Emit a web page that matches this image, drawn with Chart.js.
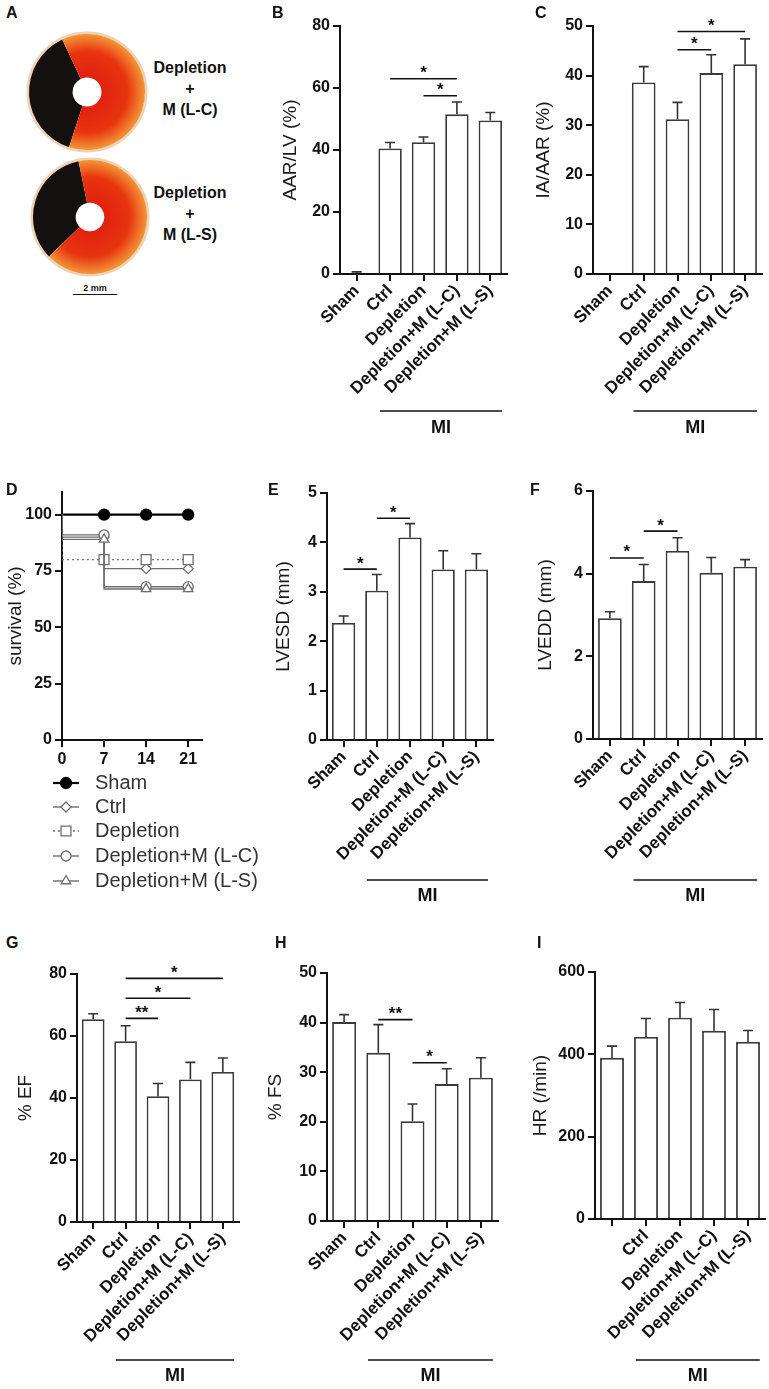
<!DOCTYPE html>
<html><head><meta charset="utf-8">
<script src="https://cdn.jsdelivr.net/npm/chart.js@4.4.1/dist/chart.umd.min.js"></script>
<style>
body{margin:0;background:#fff;}
#page{position:relative;width:769px;height:1389px;overflow:hidden;font-family:'Liberation Sans',Arial,sans-serif;background:#fff;}
.plab{position:absolute;font-weight:bold;font-size:16px;color:#111;z-index:5;}
.box{position:absolute;}
.htxt{position:absolute;width:120px;text-align:center;font-weight:bold;font-size:16px;line-height:21px;color:#111;}
.scale{position:absolute;left:73px;top:283px;width:44px;border-bottom:1.5px solid #111;text-align:center;font-weight:bold;font-size:9px;line-height:11px;color:#111;}
</style></head>
<body><div id="page">
<div class="plab" style="left:6px;top:4px">A</div>
<div class="plab" style="left:272px;top:4px">B</div>
<div class="plab" style="left:535px;top:4px">C</div>
<div class="plab" style="left:6px;top:481px">D</div>
<div class="plab" style="left:268px;top:481px">E</div>
<div class="plab" style="left:530px;top:481px">F</div>
<div class="plab" style="left:6px;top:934px">G</div>
<div class="plab" style="left:275px;top:934px">H</div>
<div class="plab" style="left:537px;top:934px">I</div>
<div class="htxt" style="left:130px;top:57px">Depletion<br>+<br>M (L-C)</div>
<div class="htxt" style="left:130px;top:182px">Depletion<br>+<br>M (L-S)</div>
<div class="scale">2 mm</div>
</div>
<script>
const FONT = "'Liberation Sans', Arial, sans-serif";
Chart.defaults.font.family = FONT;
Chart.defaults.color = '#111';
Chart.defaults.animation = false;

// ---------- DATA ----------
const groups = ['Sham', 'Ctrl', 'Depletion', 'Depletion+M (L-C)', 'Depletion+M (L-S)'];
const hrGroups = ['', 'Ctrl', 'Depletion', 'Depletion+M (L-C)', 'Depletion+M (L-S)'];

const heartLC = [38, 62];
const heartLS = [34, 66];

const aarLv = [0.3, 40.5, 42.5, 51.5, 49.5];
const aarLvErr = [0.4, 1.9, 1.7, 4.0, 2.6];
const sigB = [[1, 3, 63, '*'], [2, 3, 57.5, '*']];

const iaAar = [null, 38.6, 31.2, 40.5, 42.3];
const iaAarErr = [null, 3.2, 3.4, 3.7, 5.1];
const sigC = [[2, 4, 48.9, '*'], [2, 3, 45.2, '*']];

const survivalDays = [0, 7, 14, 21];
const survSham = [100, 100, 100, 100];
const survCtrl = [100, 90, 76, 76];
const survDepl = [100, 80, 80, 80];
const survLC = [100, 91, 68, 68];
const survLS = [100, 89, 67, 67];

const lvesd = [2.37, 3.02, 4.10, 3.45, 3.45];
const lvesdErr = [0.14, 0.33, 0.28, 0.38, 0.32];
const sigE = [[0, 1, 3.46, '*'], [1, 2, 4.49, '*']];

const lvedd = [2.92, 3.82, 4.55, 4.02, 4.17];
const lveddErr = [0.16, 0.40, 0.32, 0.37, 0.17];
const sigF = [[0, 1, 4.38, '*'], [1, 2, 5.03, '*']];

const ef = [65.4, 58.3, 40.6, 46.0, 48.4];
const efErr = [1.8, 5.0, 4.1, 5.5, 4.5];
const sigG = [[1, 2, 65.7, '**'], [1, 3, 72.2, '*'], [1, 4, 78.6, '*']];

const fs = [40.1, 33.9, 20.1, 27.6, 28.9];
const fsErr = [1.5, 5.7, 3.5, 3.1, 4.0];
const sigH = [[1, 2, 40.6, '**'], [2, 3, 31.9, '*']];

const hr = [391, 442, 489, 457, 430];
const hrErr = [29, 45, 37, 52, 28];
const sigI = [];

// ---------- HELPERS ----------
function makeBox(left, top, w, h) {
  const d = document.createElement('div');
  d.className = 'box';
  d.style.left = left + 'px'; d.style.top = top + 'px';
  d.style.width = w + 'px'; d.style.height = h + 'px';
  const c = document.createElement('canvas');
  d.appendChild(c);
  document.getElementById('page').appendChild(d);
  return c;
}

const TITLE_SIZE = 19;
const TITLE_OFF = TITLE_SIZE * 1.2 / 2 + 4;
const YTICK_FONT = {size: 16, weight: 'bold'};
const XTICK_FONT = {size: 17, weight: 'bold'};

function gridOpts(extra) {
  return Object.assign({display: true, drawOnChartArea: false, drawTicks: true, tickLength: 7, color: '#111', lineWidth: 2}, extra || {});
}

function barPanel(o) {
  const boxL = Math.round(o.titleX - TITLE_OFF);
  const padT = 22, padR = 8;
  const boxT = o.plot.t - padT;
  const boxR = o.plot.r + padR;
  const boxB = o.miTextY + 16;
  const canvas = makeBox(boxL, boxT, boxR - boxL, boxB - boxT);
  const yAxisW = o.plot.l - boxL;
  const xAxisH = boxB - o.plot.b;
  const annot = {
    id: 'annot',
    afterDatasetsDraw(chart) {
      const {ctx, scales: {x, y}} = chart;
      ctx.save();
      ctx.strokeStyle = '#333'; ctx.lineWidth = 1.6;
      o.values.forEach((v, i) => {
        const e = o.errors[i];
        if (v == null || e == null) return;
        const px = x.getPixelForValue(i);
        const y0 = y.getPixelForValue(v), y1 = y.getPixelForValue(v + e);
        ctx.beginPath();
        ctx.moveTo(px, y0); ctx.lineTo(px, y1);
        ctx.moveTo(px - 5, y1); ctx.lineTo(px + 5, y1);
        ctx.stroke();
      });
      ctx.strokeStyle = '#111'; ctx.fillStyle = '#111';
      ctx.textAlign = 'center'; ctx.textBaseline = 'alphabetic';
      ctx.font = 'bold 17px ' + FONT;
      o.sig.forEach(([a, b, v, mark]) => {
        const xa = x.getPixelForValue(a), xb = x.getPixelForValue(b), py = y.getPixelForValue(v);
        ctx.lineWidth = 1.6;
        ctx.beginPath(); ctx.moveTo(xa, py); ctx.lineTo(xb, py); ctx.stroke();
        ctx.fillText(mark, (xa + xb) / 2, py - 0.5);
      });
      const cw = x.getPixelForValue(1) - x.getPixelForValue(0);
      const m0 = x.getPixelForValue(1) - 0.3 * cw, m1 = x.getPixelForValue(4) + 0.35 * cw;
      const my = o.miY - boxT;
      ctx.lineWidth = 1.3;
      ctx.beginPath(); ctx.moveTo(m0, my); ctx.lineTo(m1, my); ctx.stroke();
      ctx.textBaseline = 'middle';
      ctx.font = 'bold 18px ' + FONT;
      ctx.fillText('MI', (m0 + m1) / 2, o.miTextY - boxT);
      ctx.restore();
    }
  };
  new Chart(canvas, {
    type: 'bar',
    data: {labels: o.labels, datasets: [{data: o.values, backgroundColor: '#fff', borderColor: '#3a3a3a', borderWidth: 1.8, barPercentage: 0.7, categoryPercentage: 1}]},
    options: {
      responsive: true, maintainAspectRatio: false, animation: false,
      layout: {padding: {top: padT, right: padR, left: 0, bottom: 0}},
      plugins: {legend: {display: false}, tooltip: {enabled: false}},
      scales: {
        x: {
          type: 'category', offset: true, z: 1,
          grid: gridOpts({offset: false}),
          border: {display: true, color: '#111', width: 2},
          ticks: {minRotation: 45, maxRotation: 45, autoSkip: false, padding: 0, color: '#111', font: XTICK_FONT},
          afterFit: (s) => { s.height = xAxisH; }
        },
        y: {
          min: 0, max: o.ymax, z: 1,
          ticks: {stepSize: o.step, padding: 3, color: '#111', font: YTICK_FONT},
          grid: gridOpts(),
          border: {display: true, color: '#111', width: 2},
          title: {display: true, text: o.title, color: '#1a1a1a', font: {size: TITLE_SIZE}, padding: {top: 4, bottom: 4}},
          afterFit: (s) => { s.width = yAxisW; }
        }
      }
    },
    plugins: [annot]
  });
}

function heartPanel(cx, cy, r, data, rot) {
  const pad = 4;
  const canvas = makeBox(cx - r - pad, cy - r - pad, 2 * (r + pad), 2 * (r + pad));
  const ring = {
    id: 'ring',
    beforeDatasetsDraw(chart) {
      const a = chart.chartArea, ctx = chart.ctx;
      const x = (a.left + a.right) / 2, y = (a.top + a.bottom) / 2, R = Math.min(a.right - a.left, a.bottom - a.top) / 2;
      ctx.save();
      ctx.strokeStyle = '#ecd3b6'; ctx.lineWidth = 3;
      ctx.beginPath(); ctx.arc(x, y, R + 1, 0, Math.PI * 2); ctx.stroke();
      ctx.restore();
    }
  };
  new Chart(canvas, {
    type: 'doughnut',
    data: {labels: ['non-risk', 'risk'], datasets: [{
      data: data, borderWidth: 0,
      backgroundColor: (c) => {
        if (c.dataIndex === 0) return '#151010';
        const a = c.chart.chartArea;
        if (!a) return '#e8300f';
        const x = (a.left + a.right) / 2, y = (a.top + a.bottom) / 2, R = Math.min(a.right - a.left, a.bottom - a.top) / 2;
        const g = c.chart.ctx.createRadialGradient(x, y, R * 0.2, x, y, R);
        g.addColorStop(0, '#df1f10'); g.addColorStop(0.62, '#e8340f'); g.addColorStop(1, '#f39636');
        return g;
      }
    }]},
    options: {responsive: true, maintainAspectRatio: false, animation: false, cutout: '25%', rotation: rot,
      layout: {padding: pad}, plugins: {legend: {display: false}, tooltip: {enabled: false}}},
    plugins: [ring]
  });
}

function survivalPanel() {
  const plot = {l: 62, r: 202, t: 492, b: 740};
  const boxL = 0, padT = 22;
  const boxT = plot.t - padT, boxR = 266, boxB = 897;
  const canvas = makeBox(boxL, boxT, boxR - boxL, boxB - boxT);
  const yAxisW = plot.l - boxL;
  const xAxisH = boxB - plot.b;
  const grey = '#6e6e6e';
  const series = [
    {label: 'Sham', data: survSham, color: '#000', fill: '#000', style: 'circle', r: 5.5, w: 2.2, dash: []},
    {label: 'Ctrl', data: survCtrl, color: grey, fill: '#fff', style: 'rectRot', r: 5, w: 1.4, dash: []},
    {label: 'Depletion', data: survDepl, color: grey, fill: '#fff', style: 'rect', r: 7, w: 1.4, dash: [2, 3]},
    {label: 'Depletion+M (L-C)', data: survLC, color: grey, fill: '#fff', style: 'circle', r: 5, w: 1.4, dash: []},
    {label: 'Depletion+M (L-S)', data: survLS, color: grey, fill: '#fff', style: 'triangle', r: 5.5, w: 1.4, dash: []}
  ];
  const legendY = [783, 807, 831, 856, 881];
  const legend = {
    id: 'kmLegend',
    afterDraw(chart) {
      const ctx = chart.ctx;
      ctx.save();
      series.forEach((s, i) => {
        const y = legendY[i] - boxT;
        ctx.strokeStyle = s.color; ctx.lineWidth = s.w;
        ctx.setLineDash(s.dash);
        ctx.beginPath(); ctx.moveTo(53, y); ctx.lineTo(79, y); ctx.stroke();
        ctx.setLineDash([]);
        ctx.fillStyle = s.fill; ctx.strokeStyle = s.color; ctx.lineWidth = 1.3;
        Chart.helpers.drawPoint(ctx, {pointStyle: s.style, radius: s.r, rotation: 0, borderWidth: 1.3}, 66, y);
        ctx.fillStyle = '#333';
        ctx.font = '20px ' + FONT;
        ctx.textAlign = 'left'; ctx.textBaseline = 'middle';
        ctx.fillText(s.label, 95, y);
      });
      ctx.restore();
    }
  };
  new Chart(canvas, {
    type: 'line',
    data: {datasets: series.map(s => ({
      label: s.label,
      data: survivalDays.map((d, i) => ({x: d, y: s.data[i]})),
      stepped: 'after',
      borderColor: s.color, borderWidth: s.w, borderDash: s.dash,
      pointStyle: s.style, pointRadius: survivalDays.map((d, i) => i === 0 ? 0 : s.r),
      pointBackgroundColor: s.fill, pointBorderColor: s.color, pointBorderWidth: 1.3,
      fill: false
    })).reverse()},
    options: {
      responsive: true, maintainAspectRatio: false, animation: false,
      layout: {padding: {top: padT, right: boxR - plot.r, left: 0, bottom: 0}},
      plugins: {legend: {display: false}, tooltip: {enabled: false}},
      scales: {
        x: {
          type: 'linear', min: 0, max: 23.3, z: 1,
          ticks: {padding: 3, color: '#111', font: YTICK_FONT, maxRotation: 0},
          afterBuildTicks: (s) => { s.ticks = survivalDays.map(v => ({value: v})); },
          grid: gridOpts(),
          border: {display: true, color: '#111', width: 2},
          afterFit: (s) => { s.height = xAxisH; }
        },
        y: {
          min: 0, max: 110, z: 1,
          ticks: {stepSize: 25, padding: 3, color: '#111', font: YTICK_FONT},
          afterBuildTicks: (s) => { s.ticks = s.ticks.filter(t => t.value <= 100); },
          grid: gridOpts(),
          border: {display: true, color: '#111', width: 2},
          title: {display: true, text: 'survival (%)', color: '#1a1a1a', font: {size: TITLE_SIZE}, padding: {top: 4, bottom: 4}},
          afterFit: (s) => { s.width = yAxisW; }
        }
      }
    },
    plugins: [legend]
  });
}

// ---------- PANELS ----------
heartPanel(87, 92, 58, heartLC, 198);
heartPanel(90, 217, 57, heartLS, 226);

barPanel({labels: groups, values: aarLv, errors: aarLvErr, ymax: 80, step: 20, title: 'AAR/LV (%)', titleX: 290,
  plot: {l: 340, r: 507, t: 26, b: 274}, sig: sigB, miY: 411, miTextY: 428});
barPanel({labels: groups, values: iaAar, errors: iaAarErr, ymax: 50, step: 10, title: 'IA/AAR (%)', titleX: 543,
  plot: {l: 593, r: 762, t: 26, b: 274}, sig: sigC, miY: 411, miTextY: 428});

survivalPanel();

barPanel({labels: groups, values: lvesd, errors: lvesdErr, ymax: 5, step: 1, title: 'LVESD (mm)', titleX: 283,
  plot: {l: 327, r: 493, t: 493, b: 740}, sig: sigE, miY: 880, miTextY: 896});
barPanel({labels: groups, values: lvedd, errors: lveddErr, ymax: 6, step: 2, title: 'LVEDD (mm)', titleX: 545,
  plot: {l: 593, r: 762, t: 491, b: 739}, sig: sigF, miY: 880, miTextY: 896});

barPanel({labels: groups, values: ef, errors: efErr, ymax: 80, step: 20, title: '% EF', titleX: 25,
  plot: {l: 77, r: 239, t: 974, b: 1222}, sig: sigG, miY: 1360, miTextY: 1376});
barPanel({labels: groups, values: fs, errors: fsErr, ymax: 50, step: 10, title: '% FS', titleX: 275,
  plot: {l: 327, r: 498, t: 973, b: 1221}, sig: sigH, miY: 1360, miTextY: 1376});
barPanel({labels: hrGroups, values: hr, errors: hrErr, ymax: 600, step: 200, title: 'HR (/min)', titleX: 540,
  plot: {l: 595, r: 765, t: 972, b: 1219}, sig: sigI, miY: 1360, miTextY: 1376});
</script>
</body></html>
